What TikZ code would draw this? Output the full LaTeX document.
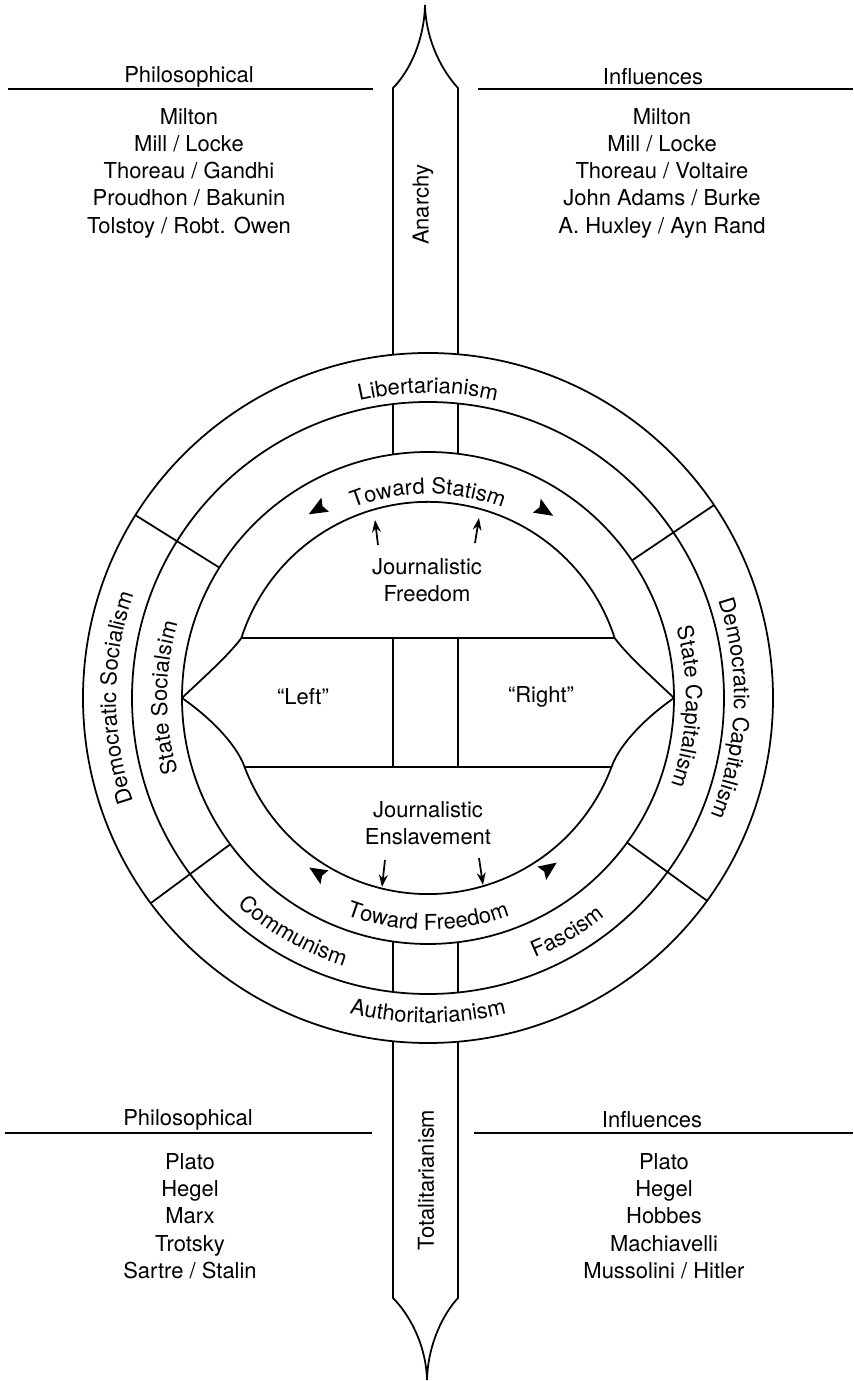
\documentclass[tikz,border=0pt]{standalone}
\usepackage{fontspec}
\setmainfont{TeX Gyre Heros}
\usetikzlibrary{arrows.meta,decorations.text}
\newcommand{\labfont}{\fontsize{12.5}{15.5}\selectfont}

\begin{document}
\begin{tikzpicture}[x=0.02cm,y=0.02cm,line width=1pt,every node/.style={font=\labfont,inner sep=0pt},rule/.style={line width=1.4pt},ringtext/.style={decorate,decoration={text along path,text align=center,text={|\labfont|#1}}},jarrow/.style={-{Stealth[length=7pt,width=5pt]}}]

\fill[white] (-428,-683) rectangle (425,698);
\useasboundingbox (-428,-683) rectangle (425,698);

% rings and dividers
\draw (0,0) circle[radius=345];
\draw (0,0) circle[radius=296];
\draw (0,0) circle[radius=246];
\foreach \a in {148,216.5,34,-36}
  \draw (\a:246) -- (\a:345);

% bar through the middle band
\draw (-35,243.5) -- (-35,293.9);
\draw (30,244.2) -- (30,294.5);
\draw (-35,-243.5) -- (-35,-293.9);
\draw (30,-244.2) -- (30,-294.5);

% spikes
\draw (-35,343.2) -- (-35,610) .. controls (-20,625) and (-4,655) .. (-3,693) .. controls (-2,655) and (16,625) .. (30,610) -- (30,343.7);
\draw (-35,-343.2) -- (-35,-600) .. controls (-20,-615) and (-2,-645) .. (-1,-682) .. controls (0,-645) and (16,-615) .. (30,-600) -- (30,-343.7);

% inner shape
\draw (-186.6,60) arc[start angle=162.2,end angle=17.8,radius=196]
  .. controls (200,42) and (225,20) .. (246,0)
  .. controls (220,-18) and (192,-45) .. (183.5,-69)
  arc[start angle=-20.6,end angle=-159.4,radius=196]
  .. controls (-192,-45) and (-220,-18) .. (-246,0)
  .. controls (-225,20) and (-200,42) .. cycle;
\draw (-186.6,60) -- (186.6,60);
\draw (-183.5,-69) -- (183.5,-69);
\draw (-35,60) -- (-35,-69);
\draw (30,60) -- (30,-69);

% ring labels
\path[ringtext=Libertarianism] (125:305) arc[start angle=125,end angle=55,radius=305];
\path[ringtext=Democratic Socialism] (215:312) arc[start angle=215,end angle=145,radius=312];
\path[ringtext=State Socialsim] (215:261) arc[start angle=215,end angle=145,radius=261];
\path[ringtext=Democratic Capitalism] (33:306) arc[start angle=33,end angle=-37,radius=306];
\path[ringtext=State Capitalism] (33:258) arc[start angle=33,end angle=-37,radius=258];
\path[ringtext=Toward Statism] (125:204) arc[start angle=125,end angle=55,radius=204];
\path[ringtext=Authoritarianism] (235:325) arc[start angle=235,end angle=305,radius=325];
\path[ringtext=Communism] (215:281) arc[start angle=215,end angle=265,radius=281];
\path[ringtext=Fascism] (276:281) arc[start angle=276,end angle=325.4,radius=281];
\path[ringtext=Toward Freedom] (235:232) arc[start angle=235,end angle=305,radius=232];

% heads beside the band texts
\fill (123:219) -- (118:211) -- (118.8:219) -- (118:227) -- cycle;
\fill (55.5:221) -- (60.5:213) -- (59.7:221) -- (60.5:229) -- cycle;
\fill (235:207) -- (240:199) -- (239.2:207) -- (240:215) -- cycle;
\fill (-52:209) -- (-57:201) -- (-56.2:209) -- (-57:217) -- cycle;

% small arrows
\coordinate (fl0) at (-50,153); \coordinate (fl1) at (-53,178);
\coordinate (fr0) at (47,155);  \coordinate (fr1) at (51,180);
\coordinate (el0) at (-43,-162); \coordinate (el1) at (-46,-189);
\coordinate (er0) at (51,-160);  \coordinate (er1) at (55,-187);
\draw[jarrow] (fl0) -- (fl1);
\draw[jarrow] (fr0) -- (fr1);
\draw[jarrow] (el0) -- (el1);
\draw[jarrow] (er0) -- (er1);

% centre texts
\node[align=center] (jfree) at (-1,118) {Journalistic\\Freedom};
\node[align=center] (jslave) at (0,-125) {Journalistic\\Enslavement};
\node (left) at (-125,1) {“Left”};
\node (right) at (113,1) {“Right”};
\node[rotate=90] (anarchy) at (-5,493) {Anarchy};
\node[rotate=90] (totalit) at (-2,-482) {Totalitarianism};

% lists
\draw[rule] (-420,609) -- (-55,609);
\draw[rule] (50,609) -- (425,609);
\draw[rule] (-423,-435) -- (-56,-435);
\draw[rule] (46,-435) -- (425,-435);
\node (philtop) at (-239,621) {Philosophical};
\node (inftop) at (225,621) {Influences};
\node[align=center] (philtoplist) at (-239,525) {Milton\\Mill / Locke\\Thoreau / Gandhi\\Proudhon / Bakunin\\Tolstoy / Robt. Owen};
\node[align=center] (inftoplist) at (234,525) {Milton\\Mill / Locke\\Thoreau / Voltaire\\John Adams / Burke\\A. Huxley / Ayn Rand};
\node (philbot) at (-240,-422) {Philosophical};
\node (infbot) at (224,-422) {Influences};
\node[align=center] (philbotlist) at (-238,-518) {Plato\\Hegel\\Marx\\Trotsky\\Sartre / Stalin};
\node[align=center] (infbotlist) at (236,-518) {Plato\\Hegel\\Hobbes\\Machiavelli\\Mussolini / Hitler};
\end{tikzpicture}
\end{document}
